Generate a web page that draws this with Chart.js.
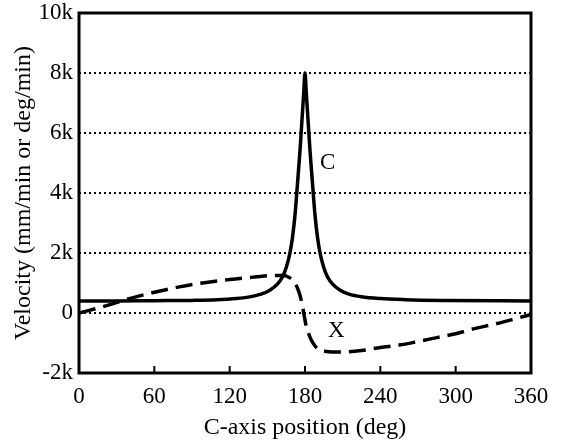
<!DOCTYPE html>
<html>
<head>
<meta charset="utf-8">
<script src="https://cdn.jsdelivr.net/npm/chart.js@4/dist/chart.umd.min.js"></script>
<style>
    html, body { margin: 0; padding: 0; background: #fff; }
    #wrap { width: 564px; height: 442px; }
</style>
</head>
<body>
<div id="wrap"><canvas id="velocity"></canvas></div>
<script>
    // C axis velocity (deg/min) vs C-axis position
    const cAngles = [0, 30, 60, 90, 110, 125, 135, 145, 152, 158, 162, 165, 168, 170, 172, 174, 175, 176, 177, 178, 179,
        180, 181, 182, 183, 184, 185, 186, 188, 190, 192, 195, 198, 202, 208, 215, 225, 240, 260, 290, 360];
    const cVelocity = [400, 400, 410, 420, 440, 480, 530, 630, 760, 960, 1200, 1510, 2000, 2510, 3250, 4300, 4850, 5400, 6050, 6700, 7350,
        8000, 7350, 6700, 6050, 5400, 4850, 4300, 3250, 2510, 2000, 1510, 1200, 960, 760, 630, 540, 480, 445, 420, 400];

    // X axis velocity (mm/min)
    const xAngles = [0, 20, 40, 60, 80, 100, 120, 140, 155, 163, 168, 172, 175, 177, 179, 181, 183, 185, 188, 191, 197,
        208, 225, 240, 255, 270, 285, 300, 315, 330, 345, 360];
    const xVelocity = [0, 220, 480, 690, 870, 1010, 1120, 1200, 1250, 1250, 1170, 1000, 720, 430, 0, -450, -700, -900, -1100, -1220, -1280,
        -1300, -1250, -1150, -1070, -950, -820, -690, -520, -380, -220, -50];

    const xTicks = [0, 60, 120, 180, 240, 300, 360];
    const seriesNames = ['C', 'X'];
    const seriesLabelAt = [[198, 5000], [205, -600]];

    const serif = "'Liberation Serif', 'Times New Roman', serif";
    Chart.defaults.color = '#000';
    Chart.defaults.font.family = serif;

    const toPoints = (xs, ys) => xs.map((x, i) => ({x: x, y: ys[i]}));

    const frameAndTicks = {
        id: 'frameAndTicks',
        afterDatasetsDraw(chart) {
            const {ctx, chartArea, scales} = chart;
            ctx.save();
            ctx.strokeStyle = '#000';
            // inner tick marks on the bottom axis
            ctx.lineWidth = 2;
            xTicks.slice(1, -1).forEach(t => {
                const px = scales.x.getPixelForValue(t);
                ctx.beginPath();
                ctx.moveTo(px, chartArea.bottom);
                ctx.lineTo(px, chartArea.bottom - 7);
                ctx.stroke();
            });
            // box
            ctx.lineWidth = 3;
            ctx.strokeRect(chartArea.left, chartArea.top, chartArea.right - chartArea.left, chartArea.bottom - chartArea.top);
            // series labels
            ctx.fillStyle = '#000';
            ctx.font = '23px ' + serif;
            ctx.textAlign = 'center';
            ctx.textBaseline = 'middle';
            seriesNames.forEach((name, i) => {
                ctx.fillText(name, scales.x.getPixelForValue(seriesLabelAt[i][0]), scales.y.getPixelForValue(seriesLabelAt[i][1]));
            });
            ctx.restore();
        }
    };

    new Chart(document.getElementById('velocity'), {
        type: 'line',
        data: {
            datasets: [
                {
                    label: seriesNames[0],
                    data: toPoints(cAngles, cVelocity),
                    borderColor: '#000',
                    borderWidth: 3.5,
                    pointRadius: 0,
                    cubicInterpolationMode: 'monotone'
                },
                {
                    label: seriesNames[1],
                    data: toPoints(xAngles, xVelocity),
                    borderColor: '#000',
                    borderWidth: 3.5,
                    borderDash: [17, 8],
                    pointRadius: 0,
                    cubicInterpolationMode: 'monotone'
                }
            ]
        },
        options: {
            responsive: true,
            maintainAspectRatio: false,
            animation: false,
            layout: {
                padding: {top: 13, right: 33, left: 0, bottom: 0}
            },
            plugins: {
                legend: {display: false},
                tooltip: {enabled: false}
            },
            scales: {
                x: {
                    type: 'linear',
                    min: 0,
                    max: 360,
                    afterBuildTicks: scale => {
                        scale.ticks = xTicks.map(v => ({value: v}));
                    },
                    afterFit: scale => {
                        scale.height = 69;
                        scale.paddingLeft = 0;
                        scale.paddingRight = 0;
                    },
                    grid: {display: false, drawTicks: false},
                    border: {display: false},
                    ticks: {
                        padding: 10,
                        maxRotation: 0,
                        font: {size: 23}
                    },
                    title: {
                        display: true,
                        text: 'C-axis position (deg)',
                        font: {size: 24},
                        padding: {top: 0, bottom: 0}
                    }
                },
                y: {
                    min: -2000,
                    max: 10000,
                    ticks: {
                        stepSize: 2000,
                        padding: 6,
                        font: {size: 23},
                        callback: v => v === 0 ? '0' : (v / 1000) + 'k'
                    },
                    afterFit: scale => {
                        scale.width = 79;
                        scale.paddingTop = 0;
                        scale.paddingBottom = 0;
                    },
                    grid: {
                        color: '#000',
                        lineWidth: 2,
                        drawTicks: false
                    },
                    border: {display: false, dash: [2, 3]},
                    title: {
                        display: true,
                        text: 'Velocity (mm/min or deg/min)',
                        font: {size: 24},
                        padding: {top: 9, bottom: 0}
                    }
                }
            }
        },
        plugins: [frameAndTicks]
    });
</script>
</body>
</html>
